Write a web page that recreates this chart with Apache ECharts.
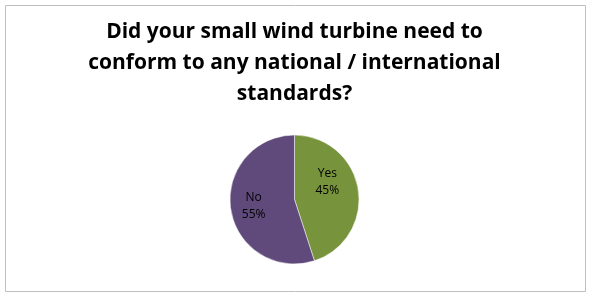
<!DOCTYPE html>
<html><head><meta charset="utf-8">
<script src="https://cdn.jsdelivr.net/npm/echarts@6/dist/echarts.min.js"></script>
<style>html,body{margin:0;padding:0;background:#fff}#c{width:589px;height:297px}</style>
</head><body><div id="c"></div>
<script>
const titleText = 'Did your small wind turbine need to\nconform to any national / international\nstandards?';
const categories = ['Yes', 'No'];
const values = [45, 55];
const colors = ['#77933C', '#604A7B'];
const labelOffsets = [[-2, -12], [-6, 1]];

const chart = echarts.init(document.getElementById('c'), null, {renderer: 'canvas'});
chart.setOption({
  animation: false,
  graphic: [{
    type: 'rect', shape: {x: 5.5, y: 5.5, width: 580, height: 286},
    style: {fill: 'none', stroke: '#BFBFBF', lineWidth: 1}
  }],
  title: {
    text: titleText, left: 'center', top: 12,
    textStyle: {fontFamily: 'Open Sans', fontWeight: 'bold', fontSize: 21, lineHeight: 31, color: '#000'}
  },
  series: [{
    type: 'pie', center: [294.5, 199.5], radius: 64.5, startAngle: 90, clockwise: true,
    itemStyle: {borderColor: '#fff', borderWidth: 0.5},
    label: {position: 'inside', formatter: '{b}\n{d}%', fontFamily: 'Open Sans', fontSize: 12, lineHeight: 17, color: '#000'},
    labelLine: {show: false},
    data: categories.map((c, i) => ({name: c, value: values[i], itemStyle: {color: colors[i]}, label: {offset: labelOffsets[i]}}))
  }]
});
</script></body></html>
